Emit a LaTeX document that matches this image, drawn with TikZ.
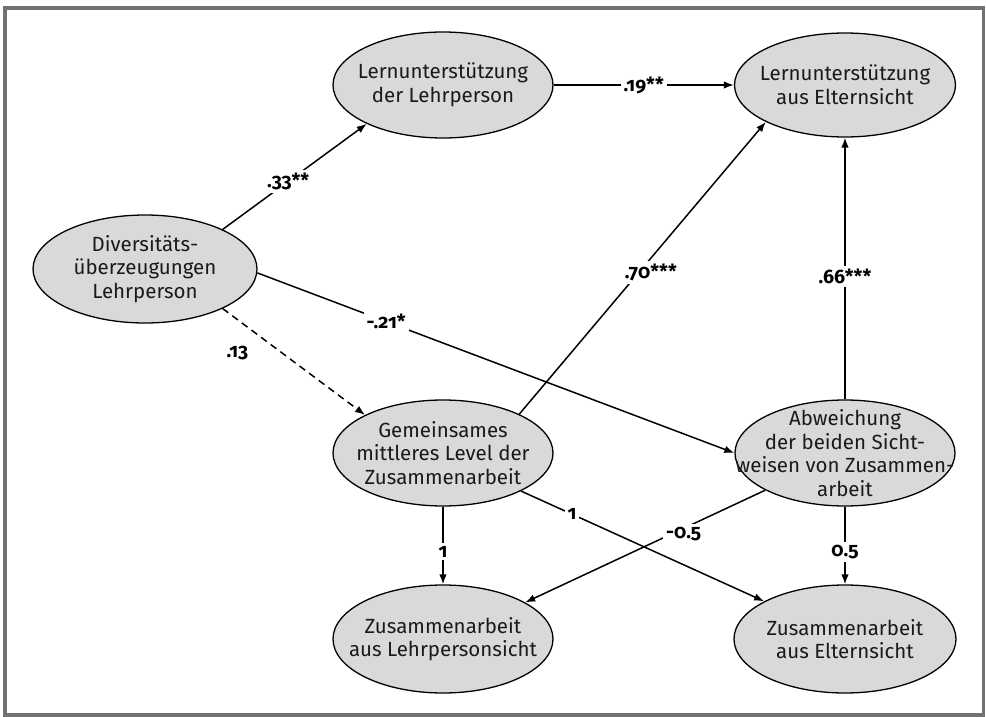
\documentclass[tikz,border=0pt]{standalone}
\usepackage{fontspec}
\setmainfont{Fira Sans}[Numbers=OldStyle]
\usetikzlibrary{shapes.geometric,arrows.meta}
\definecolor{ellfill}{HTML}{D9D9D9}
\definecolor{framegray}{HTML}{727272}
\definecolor{txtc}{HTML}{1A1A1A}
\begin{document}
\begin{tikzpicture}[x=1pt,y=-1pt,
  ell/.style={ellipse, draw=black, line width=1.3pt, fill=ellfill, inner sep=0pt,
    minimum width=220pt, minimum height=106pt},
  txt/.style={align=center, text=txtc, inner sep=0pt, font=\fontsize{20.5}{23.5}\selectfont},
  conn/.style={line width=1.5pt, -{Latex[length=10pt,width=7.5pt]}},
  dashconn/.style={conn, dash pattern=on 7pt off 5pt},
  lbl/.style={fill=white, inner sep=3pt, text=black, font=\bfseries\fontsize{19.5}{19.5}\selectfont}]
\useasboundingbox (0,0) rectangle (986,717);
\fill[white] (0,0) rectangle (986,717);
\draw[framegray, line width=3.8pt] (5.3,7.7) rectangle (983.5,715);

\node[ell, minimum width=224pt, minimum height=108pt, label={[txt]center:{Diversitäts-\\überzeugungen\\Lehrperson}}] (div) at (145,269) {};
\node[ell, label={[txt]center:{Lernunterstützung\\der Lehrperson}}] (ldl) at (443,85) {};
\node[ell, minimum width=221pt, minimum height=104pt, label={[txt]center:{Lernunterstützung\\aus Elternsicht}}] (lae) at (845,85) {};
\node[ell, label={[txt]center:{Gemeinsames\\mittleres Level der\\Zusammenarbeit}}] (gem) at (443,453) {};
\node[ell, label={[txt]center:{Abweichung\\der beiden Sicht-\\weisen von Zusammen-\\arbeit}}] (abw) at (845,453) {};
\node[ell, minimum height=108pt, label={[txt]center:{Zusammenarbeit\\aus Lehrpersonsicht}}] (zal) at (443,639) {};
\node[ell, minimum width=222pt, minimum height=108pt, label={[txt]center:{Zusammenarbeit\\aus Elternsicht}}] (zae) at (845,639) {};

\draw[conn] (div.27.5) -- node[lbl, pos=0.455] {.33**} (ldl.207);
\draw[conn] (ldl.east) -- node[lbl, pos=0.5] {.19**} (lae.west);
\draw[conn] (gem.27.5) -- node[lbl, pos=0.485, xshift=12pt] {.70***} (lae.205.7);
\draw[conn] (abw.north) -- node[lbl, pos=0.47] {.66***} (lae.south);
\draw[conn] (div.-2) -- node[lbl, pos=0.27] {-.21*} (abw.west);
\draw[dashconn] (div.333) -- node[lbl, fill=none, pos=0.42, xshift=-45pt] {.13} (gem.154.6);
\draw[conn] (gem.south) -- node[lbl, pos=0.58] {1} (zal.north);
\draw[conn] (abw.south) -- node[lbl, pos=0.58] {0.5} (zae.north);
\draw[conn] (gem.334) -- node[lbl, pos=0.21] {1} (zae.155);
\draw[conn] (abw.205.4) -- node[lbl, pos=0.34, yshift=-6pt] {-0.5} (zal.24.8);
\end{tikzpicture}
\end{document}
